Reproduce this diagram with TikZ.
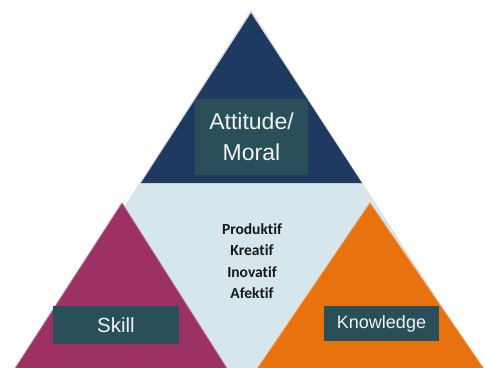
\documentclass[tikz,border=0pt]{standalone}
\usepackage{fontspec}
\setmainfont{Liberation Sans}
\newfontfamily\calib[Ligatures={NoCommon,NoRare}]{Carlito}
\definecolor{topblue}{HTML}{1E3A60}
\definecolor{midblue}{HTML}{D5E6ED}
\definecolor{skillcol}{HTML}{9C3163}
\definecolor{knowcol}{HTML}{E8730E}
\definecolor{boxcol}{HTML}{284F5A}
\definecolor{boxtext}{HTML}{F2F2F2}
\begin{document}
\begin{tikzpicture}[x=1pt,y=-1pt,
  labelbox/.style={fill=boxcol,text=boxtext,inner sep=0pt,align=center},
  centertext/.style={align=center,font=\calib\bfseries\fontsize{15.5}{21.5}\selectfont,text=black!90}]
\useasboundingbox (0,0) rectangle (484,367);
\fill[white] (0,0) rectangle (484,367);
\begin{scope}
\clip (0,0) rectangle (484,367);
% big triangle (light blue middle)
\fill[midblue] (251,13) -- (482,372) -- (20,372) -- cycle;
\draw[black!15,line width=1.2pt] (19,372) -- (251,11) -- (483,372);
% top triangle
\fill[topblue] (251,13) -- (362,183) -- (141,183) -- cycle;
% skill triangle
\fill[skillcol] (122,203) -- (228,370) -- (14,370) -- cycle;
\draw[skillcol!70!white,line width=0.8pt] (14,370) -- (122,203) -- (228,370);
% knowledge triangle
\fill[knowcol] (370,203) -- (486,372) -- (255,372) -- cycle;
\draw[knowcol!75!white,line width=0.8pt] (255,372) -- (370,203) -- (486,372);
\end{scope}
% label boxes
\node[labelbox,minimum width=113,minimum height=76,font=\fontsize{23}{31}\selectfont] (att) at (251.5,137) {Attitude/\\Moral};
\node[labelbox,minimum width=126,minimum height=38,font=\fontsize{20.5}{24}\selectfont] (skill) at (116,325) {Skill};
\node[labelbox,minimum width=115,minimum height=35,font=\fontsize{18}{22}\selectfont] (know) at (381.5,323.5) {Knowledge};
% center text
\node[centertext] (mid) at (252,261) {Produktif\\Kreatif\\Inovatif\\Afektif};
\end{tikzpicture}
\end{document}
